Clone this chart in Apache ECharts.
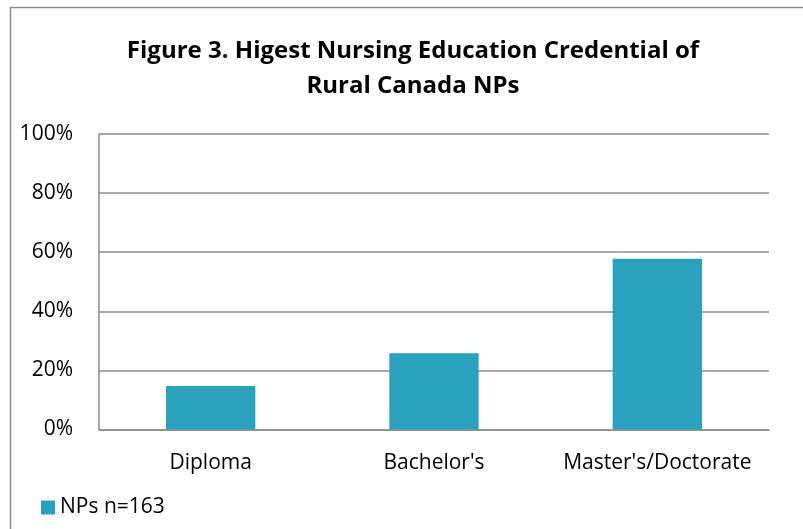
<!DOCTYPE html>
<html><head><meta charset="utf-8">
<script src="https://cdn.jsdelivr.net/npm/echarts@6/dist/echarts.min.js"></script>
<style>html,body{margin:0;padding:0;background:#fff}#c{width:803px;height:529px}</style>
</head><body><div id="c"></div>
<script>
const categories = ["Diploma", "Bachelor's", "Master's/Doctorate"];
const values = [14.7, 25.8, 57.8];
const seriesName = "NPs n=163";
const titleText = "Figure 3. Higest Nursing Education Credential of\nRural Canada NPs";
const FONT = "Open Sans";
const chart = echarts.init(document.getElementById('c'), null, {renderer: 'canvas'});
chart.setOption({
  animation: false,
  backgroundColor: '#fff',
  graphic: [{type: 'rect', shape: {x: 10.5, y: 7.5, width: 800, height: 530}, style: {fill: 'none', stroke: '#8c8c8c', lineWidth: 1.5}, silent: true}],
  title: {text: titleText, left: 408, textAlign: 'center', top: 29,
    textStyle: {fontFamily: FONT, fontWeight: 'bold', fontSize: 24, color: '#000', lineHeight: 35}},
  legend: {left: 36, top: 492, itemWidth: 14, itemHeight: 14, itemGap: 6, icon: 'rect',
    textStyle: {fontFamily: FONT, fontSize: 21, color: '#000'}, data: [seriesName]},
  grid: {left: 99, right: 34, top: 134, bottom: 99.5, containLabel: false},
  xAxis: {type: 'category', data: categories,
    axisLine: {lineStyle: {color: '#8c8c8c', width: 1.5}}, axisTick: {show: false},
    axisLabel: {fontFamily: FONT, fontSize: 21, color: '#000', margin: 23, interval: 0}},
  yAxis: {type: 'value', min: 0, max: 100, interval: 20,
    axisLine: {show: true, lineStyle: {color: '#8c8c8c', width: 1.5}}, axisTick: {show: false},
    splitLine: {lineStyle: {color: '#8c8c8c', width: 1.5}},
    axisLabel: {fontFamily: FONT, fontSize: 21, color: '#000', margin: 26, formatter: '{value}%'}},
  series: [{name: seriesName, type: 'bar', data: values, barWidth: '40%',
    itemStyle: {color: '#2ca1be'}}]
});
</script></body></html>
